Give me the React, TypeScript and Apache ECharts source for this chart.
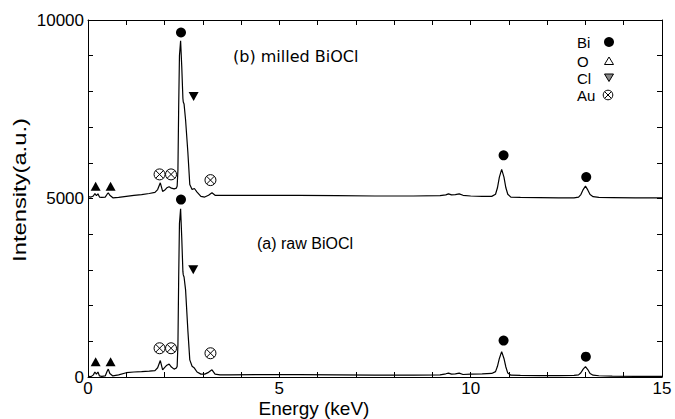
import React, { useEffect, useRef } from "react";
import * as echarts from "echarts";

// Energy axis (keV) shared by both spectra
const energy = [
  0.0, 0.08, 0.14, 0.18, 0.22, 0.26, 0.3, 0.36, 0.45, 0.5,
  0.53, 0.57, 0.65, 0.8, 1.0, 1.2, 1.4, 1.6, 1.75, 1.82,
  1.89, 1.95, 2.0, 2.06, 2.12, 2.18, 2.25, 2.31, 2.33, 2.35,
  2.37, 2.39, 2.42, 2.45, 2.48, 2.49, 2.51, 2.55, 2.61, 2.66,
  2.72, 2.78, 2.85, 2.95, 3.05, 3.15, 3.24, 3.32, 3.45, 3.7,
  4.5, 5.5, 6.5, 7.5, 8.5, 9.2, 9.35, 9.42, 9.5, 9.6,
  9.7, 9.8, 10.0, 10.3, 10.55, 10.65, 10.7, 10.75, 10.81, 10.87,
  10.92, 10.97, 11.05, 11.3, 11.8, 12.3, 12.7, 12.82, 12.88, 12.94,
  13.0, 13.06, 13.12, 13.2, 13.35, 13.7, 14.3, 15.0,
];

// (a) raw BiOCl
const rawIntensity = [
  20, 10, 60, 140, 80, 140, 30, 20, 30, 160,
  220, 100, 30, 60, 120, 140, 150, 165, 180, 260,
  460, 200, 260, 330, 360, 280, 220, 250, 300, 900,
  2800, 4300, 4710, 3900, 2950, 2860, 2800, 2440, 1300, 480,
  300, 250, 140, 80, 80, 130, 200, 80, 60, 60,
  65, 65, 60, 55, 55, 60, 90, 110, 80, 90,
  110, 70, 80, 90, 100, 150, 300, 520, 710, 520,
  280, 110, 50, 45, 40, 40, 45, 60, 120, 220,
  290, 210, 100, 50, 35, 25, 20, 15,
];

// (b) milled BiOCl (plotted with a vertical offset)
const milledIntensity = [
  50, 40, 70, 140, 80, 130, 40, 30, 40, 120,
  160, 90, 20, 30, 60, 90, 110, 140, 170, 250,
  440, 200, 230, 300, 330, 290, 270, 290, 350, 800,
  2600, 4000, 4420, 3700, 2800, 2700, 2650, 2200, 1290, 390,
  250, 280, 180, 60, 40, 90, 160, 90, 85, 90,
  90, 85, 80, 70, 70, 80, 100, 130, 100, 110,
  130, 90, 70, 60, 60, 120, 300, 600, 815, 600,
  300, 120, 40, 30, 25, 20, 20, 40, 110, 250,
  345, 240, 110, 50, 30, 25, 20, 15,
];
const milledOffset = 5000;

const xTickLabels = [0, 5, 10, 15];
const yTickLabels = [0, 5000, 10000];

// Peak markers [energy, intensity]
const biMarkers = [
  [2.43, 4970], [10.86, 1020], [13.01, 570],
  [2.43, 9650], [10.86, 6210], [13.02, 5600],
];
const oMarkers = [
  [0.2, 430], [0.59, 430],
  [0.2, 5345], [0.59, 5345],
];
const clMarkers = [
  [2.75, 3005],
  [2.76, 7855],
];
const auMarkers = [
  [1.87, 805], [2.17, 805], [3.2, 665],
  [1.87, 5675], [2.17, 5675], [3.2, 5515],
];

const legendNames = ["Bi", "O", "Cl", "Au"];
const sampleLabels = ["(b) milled BiOCl", "(a) raw BiOCl"];

const FONT = '"Liberation Sans", Arial, Helvetica, sans-serif';
const AU_PATH =
  "path://M0,10a10,10 0 1,0 20,0a10,10 0 1,0 -20,0zM2.93,2.93L17.07,17.07M17.07,2.93L2.93,17.07";

export default function App() {
  const ref = useRef<HTMLDivElement>(null);

  useEffect(() => {
    if (!ref.current) return;
    const chart = echarts.init(ref.current, null, { renderer: "svg" });

    const rawData = energy.map((e, i) => [e, rawIntensity[i]]);
    const milledData = energy.map((e, i) => [e, milledIntensity[i] + milledOffset]);

    const axisLine = { show: true, onZero: false, lineStyle: { color: "#000", width: 1 } };
    const tick = { show: true, inside: true, length: 5, lineStyle: { color: "#000", width: 1 } };

    const legendY = [42, 61, 78, 95];

    chart.setOption({
      animation: false,
      backgroundColor: "#fff",
      grid: { left: 88, right: 13, top: 20, bottom: 42, containLabel: false },
      xAxis: [
        {
          type: "value",
          min: 0,
          max: 15,
          interval: 1,
          position: "bottom",
          axisLine,
          axisTick: tick,
          splitLine: { show: false },
          axisLabel: {
            color: "#000",
            fontSize: 17,
            fontFamily: FONT,
            margin: 3,
            formatter: (v: number) => (xTickLabels.includes(v) ? String(v) : ""),
          },
        },
        {
          type: "value",
          min: 0,
          max: 15,
          interval: 1,
          position: "top",
          axisLine,
          axisTick: tick,
          splitLine: { show: false },
          axisLabel: { show: false },
        },
      ],
      yAxis: [
        {
          type: "value",
          min: 0,
          max: 10000,
          interval: 1000,
          position: "left",
          axisLine,
          axisTick: tick,
          splitLine: { show: false },
          axisLabel: {
            color: "#000",
            fontSize: 17,
            fontFamily: FONT,
            margin: 4,
            formatter: (v: number) => (yTickLabels.includes(v) ? String(v) : ""),
          },
        },
        {
          type: "value",
          min: 0,
          max: 10000,
          interval: 1000,
          position: "right",
          axisLine,
          axisTick: tick,
          splitLine: { show: false },
          axisLabel: { show: false },
        },
      ],
      series: [
        {
          name: "raw BiOCl",
          type: "line",
          data: rawData,
          showSymbol: false,
          symbol: "none",
          lineStyle: { color: "#000", width: 1.2 },
          z: 2,
        },
        {
          name: "milled BiOCl",
          type: "line",
          data: milledData,
          showSymbol: false,
          symbol: "none",
          lineStyle: { color: "#000", width: 1.2 },
          z: 2,
        },
        {
          name: "Bi",
          type: "scatter",
          data: biMarkers,
          symbol: "circle",
          symbolSize: 10,
          itemStyle: { color: "#000", opacity: 1 },
          z: 5,
        },
        {
          name: "O",
          type: "scatter",
          data: oMarkers,
          symbol: "triangle",
          symbolSize: [10, 9],
          itemStyle: { color: "#000", opacity: 1 },
          z: 5,
        },
        {
          name: "Cl",
          type: "scatter",
          data: clMarkers,
          symbol: "triangle",
          symbolRotate: 180,
          symbolSize: [10, 9],
          itemStyle: { color: "#000", opacity: 1 },
          z: 5,
        },
        {
          name: "Au",
          type: "scatter",
          data: auMarkers,
          symbol: AU_PATH,
          symbolSize: 11,
          itemStyle: { color: "rgba(0,0,0,0)", borderColor: "#000", borderWidth: 1, opacity: 1 },
          z: 5,
        },
      ],
      graphic: [
        {
          type: "text",
          x: 20,
          y: 190,
          rotation: Math.PI / 2,
          scaleX: 1.25,
          style: {
            text: "Intensity(a.u.)",
            font: `19px ${FONT}`,
            fill: "#000",
            align: "center",
            verticalAlign: "middle",
          },
        },
        {
          type: "text",
          x: 314,
          y: 408,
          style: {
            text: "Energy (keV)",
            font: `19px ${FONT}`,
            fill: "#000",
            align: "center",
            verticalAlign: "middle",
          },
        },
        {
          type: "text",
          x: 233,
          y: 56,
          style: {
            text: sampleLabels[0],
            font: '16px "DejaVu Sans", sans-serif',
            fill: "#000",
            align: "left",
            verticalAlign: "middle",
          },
        },
        {
          type: "text",
          x: 257,
          y: 243,
          style: {
            text: sampleLabels[1],
            font: `16px ${FONT}`,
            fill: "#000",
            align: "left",
            verticalAlign: "middle",
          },
        },
        ...legendNames.map((n, i) => ({
          type: "text",
          x: 577,
          y: legendY[i],
          style: {
            text: n,
            font: `15px ${FONT}`,
            fill: "#000",
            align: "left",
            verticalAlign: "middle",
          },
        })),
        { type: "circle", shape: { cx: 609, cy: 42, r: 5 }, style: { fill: "#000" } },
        {
          type: "polygon",
          shape: { points: [[604.5, 64.5], [613.5, 64.5], [609, 57]] },
          style: { fill: "none", stroke: "#000", lineWidth: 1 },
        },
        {
          type: "polygon",
          shape: { points: [[604.5, 74], [613.5, 74], [609, 81.5]] },
          style: { fill: "#888", stroke: "#000", lineWidth: 1 },
        },
        { type: "circle", shape: { cx: 608, cy: 95, r: 4.8 }, style: { fill: "none", stroke: "#000", lineWidth: 1 } },
        { type: "line", shape: { x1: 604.6, y1: 91.6, x2: 611.4, y2: 98.4 }, style: { stroke: "#000", lineWidth: 1 } },
        { type: "line", shape: { x1: 611.4, y1: 91.6, x2: 604.6, y2: 98.4 }, style: { stroke: "#000", lineWidth: 1 } },
      ],
    });

    return () => chart.dispose();
  }, []);

  return (
    <div
      ref={ref}
      style={{ position: "fixed", left: 0, top: 0, width: 675, height: 419, background: "#fff" }}
    />
  );
}
